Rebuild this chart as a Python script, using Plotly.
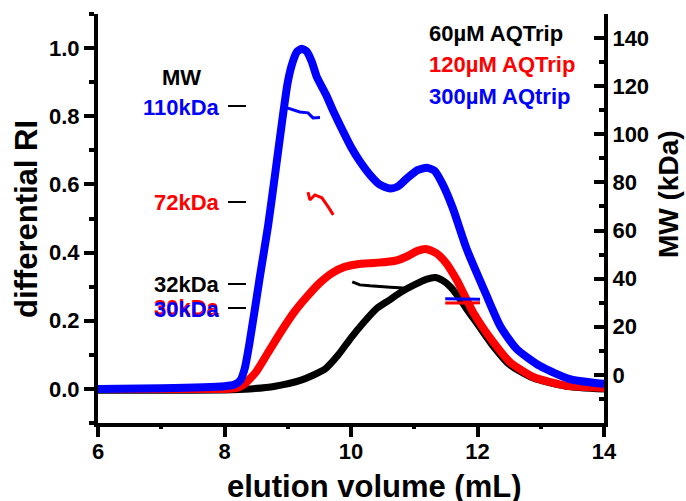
import plotly.graph_objects as go

# ---------------- data ----------------
# differential RI traces (left axis)
black_x = [6.0, 7.0, 8.0, 8.4, 8.8, 9.2, 9.4, 9.6, 9.8, 10.0, 10.2, 10.4, 10.6, 10.8, 11.0, 11.2, 11.33, 11.45, 11.57, 11.7, 11.83, 12.0, 12.25, 12.5, 12.88, 13.4, 14.0]
black_y = [-0.004, -0.004, -0.003, 0.0, 0.008, 0.025, 0.04, 0.06, 0.1, 0.15, 0.195, 0.235, 0.26, 0.285, 0.305, 0.322, 0.327, 0.318, 0.30, 0.27, 0.234, 0.19, 0.125, 0.072, 0.032, 0.008, 0.0]

red_x = [6.0, 7.0, 8.0, 8.2, 8.3, 8.5, 8.7, 8.9, 9.1, 9.3, 9.5, 9.7, 9.9, 10.1, 10.4, 10.7, 10.9, 11.05, 11.2, 11.35, 11.5, 11.67, 11.93, 12.25, 12.51, 12.88, 13.41, 14.0]
red_y = [0.0, 0.0, 0.0, 0.003, 0.012, 0.05, 0.11, 0.17, 0.225, 0.27, 0.31, 0.34, 0.358, 0.366, 0.37, 0.376, 0.39, 0.405, 0.41, 0.398, 0.37, 0.32, 0.225, 0.137, 0.079, 0.035, 0.009, 0.003]

blue_x = [6.0, 7.0, 8.0, 8.15, 8.25, 8.32, 8.40, 8.56, 8.69, 8.8, 8.9, 9.0, 9.08, 9.15, 9.22, 9.3, 9.38, 9.46, 9.6, 9.72, 9.85, 10.0, 10.15, 10.3, 10.45, 10.62, 10.75, 10.88, 11.05, 11.2, 11.32, 11.45, 11.61, 11.83, 12.12, 12.36, 12.62, 12.99, 13.46, 14.0]
blue_y = [0.0, 0.002, 0.008, 0.012, 0.025, 0.06, 0.14, 0.33, 0.48, 0.63, 0.77, 0.9, 0.96, 0.99, 0.998, 0.99, 0.96, 0.915, 0.865, 0.815, 0.765, 0.71, 0.665, 0.628, 0.6, 0.588, 0.595, 0.617, 0.642, 0.649, 0.64, 0.6, 0.53, 0.41, 0.284, 0.184, 0.117, 0.067, 0.029, 0.015]

# MW fragments (right axis, kDa)
mw_black_x = [10.02, 10.14, 10.3, 10.46, 10.62, 10.77, 10.95]
mw_black_y = [38.7, 37.4, 37.0, 36.6, 36.4, 36.2, 35.8]
mw_red72_x = [9.32, 9.35, 9.43, 9.54, 9.64, 9.72]
mw_red72_y = [76.0, 72.7, 74.8, 73.6, 69.8, 66.5]
mw_blue110_x = [8.99, 9.19, 9.32, 9.40, 9.51]
mw_blue110_y = [111.0, 109.3, 108.9, 106.8, 107.0]
mw_red30_x = [11.49, 11.7, 11.9, 12.04]
mw_red30_y = [29.9, 29.8, 29.9, 30.0]
mw_blue30_x = [11.49, 11.7, 11.9, 12.04]
mw_blue30_y = [31.6, 31.5, 31.6, 31.4]

legend_labels = ["60µM AQTrip", "120µM AQTrip", "300µM AQtrip"]
mw_labels = ["110kDa", "72kDa", "32kDa", "30kDa"]

x_ticks = [6, 8, 10, 12, 14]
x_minor = [7, 9, 11, 13]
y_ticks = [0.0, 0.2, 0.4, 0.6, 0.8, 1.0]
y2_ticks = [0, 20, 40, 60, 80, 100, 120, 140]

BLACK, RED, BLUE = "#000000", "#ff0000", "#0000ff"
FONT = "Liberation Sans, Arial, sans-serif"

# ---------------- layout helpers ----------------
W, H = 686, 501
ML, MR, MT, MB = 98, 82, 14, 78
PW, PH = W - ML - MR, H - MT - MB

def px(x):
    return (x - ML) / PW

def py(y):
    return (H - MB - y) / PH

fig = go.Figure()

def ri(x, y, c, w):
    fig.add_trace(go.Scatter(x=x, y=y, mode="lines", line=dict(color=c, width=w, shape="spline", smoothing=0.6),
                             showlegend=False, hoverinfo="skip"))

def mw(x, y, c, w=3):
    fig.add_trace(go.Scatter(x=x, y=y, xaxis="x2", yaxis="y2", mode="lines", line=dict(color=c, width=w),
                             showlegend=False, hoverinfo="skip"))

ri(black_x, black_y, BLACK, 7)
ri(red_x, red_y, RED, 8)
ri(blue_x, blue_y, BLUE, 8)
mw(mw_black_x, mw_black_y, BLACK)
mw(mw_red72_x, mw_red72_y, RED)
mw(mw_blue110_x, mw_blue110_y, BLUE)
mw(mw_red30_x, mw_red30_y, RED)
mw(mw_blue30_x, mw_blue30_y, BLUE)

tickfont = dict(family=FONT, size=22, color="black")

def b(s):
    return f"<b>{s}</b>"

fig.update_layout(
    width=W, height=H,
    margin=dict(l=ML, r=MR, t=MT, b=MB),
    paper_bgcolor="white", plot_bgcolor="white",
    showlegend=False,
    xaxis=dict(range=[6, 14], tickvals=x_ticks, ticktext=[b(v) for v in x_ticks],
               showline=True, linewidth=4, linecolor="black", mirror=False,
               ticks="outside", ticklen=10, tickwidth=4, tickcolor="black", ticklabelstandoff=-4,
               showgrid=False, zeroline=False, tickfont=tickfont),
    # overlay axis carrying the MW traces and the minor x ticks
    xaxis2=dict(range=[6, 14], overlaying="x", side="bottom", anchor="y2",
                tickvals=x_minor, showticklabels=False, showline=False,
                ticks="outside", ticklen=5, tickwidth=4, tickcolor="black",
                showgrid=False, zeroline=False),
    yaxis=dict(range=[-0.1, 1.1], tickvals=y_ticks, ticktext=[b(f"{v:.1f}") for v in y_ticks],
               showline=True, linewidth=4, linecolor="black",
               ticks="outside", ticklen=10, tickwidth=4, tickcolor="black",
               minor=dict(tickmode="linear", tick0=0, dtick=0.1, ticks="outside", ticklen=5, tickwidth=4, tickcolor="black"),
               showgrid=False, zeroline=False, tickfont=tickfont),
    yaxis2=dict(range=[-20, 150], overlaying="y", side="right", anchor="x", tickvals=y2_ticks,
                ticktext=[b(v) for v in y2_ticks],
                showline=True, linewidth=4, linecolor="black",
                ticks="inside", ticklen=10, tickwidth=4, tickcolor="black",
                minor=dict(tickmode="linear", tick0=0, dtick=10, ticks="inside", ticklen=5, tickwidth=4, tickcolor="black"),
                showgrid=False, zeroline=False, tickfont=tickfont),
)

anns = []
def txt(t, x, y, color="black", size=22, xanchor="center", angle=0):
    anns.append(dict(text=b(t), x=px(x), y=py(y), xref="paper", yref="paper", showarrow=False,
                     xanchor=xanchor, yanchor="middle", textangle=angle,
                     font=dict(family=FONT, size=size, color=color)))

# axis titles
txt("elution volume (mL)", 374, 486, size=31)
txt("differential RI", 27, 219, size=31, angle=-90)
txt("MW (kDa)", 668, 194, size=28, angle=-90)

# legend texts
for lab, c, yy in zip(legend_labels, [BLACK, RED, BLUE], [33, 65, 96]):
    txt(lab, 427, yy, color=c, size=22, xanchor="left")

# MW labels
txt("MW", 181, 77, size=22)
txt(mw_labels[0], 222, 108, color=BLUE, xanchor="right")
txt(mw_labels[1], 222, 203, color=RED, xanchor="right")
txt(mw_labels[2], 222, 284, color=BLACK, xanchor="right")
txt(mw_labels[3], 222, 307, color=RED, xanchor="right")
txt(mw_labels[3], 222, 309, color=BLUE, xanchor="right")
fig.update_layout(annotations=anns)

# short marker dashes next to labels
for yy in [106, 202, 284, 308]:
    fig.add_shape(type="line", xref="paper", yref="paper", x0=px(228), x1=px(246), y0=py(yy), y1=py(yy),
                  line=dict(color="black", width=2))

fig.write_html("out.html", config={"displayModeBar": False},
               post_script="document.body.style.margin='0px';document.body.style.overflow='hidden';")
